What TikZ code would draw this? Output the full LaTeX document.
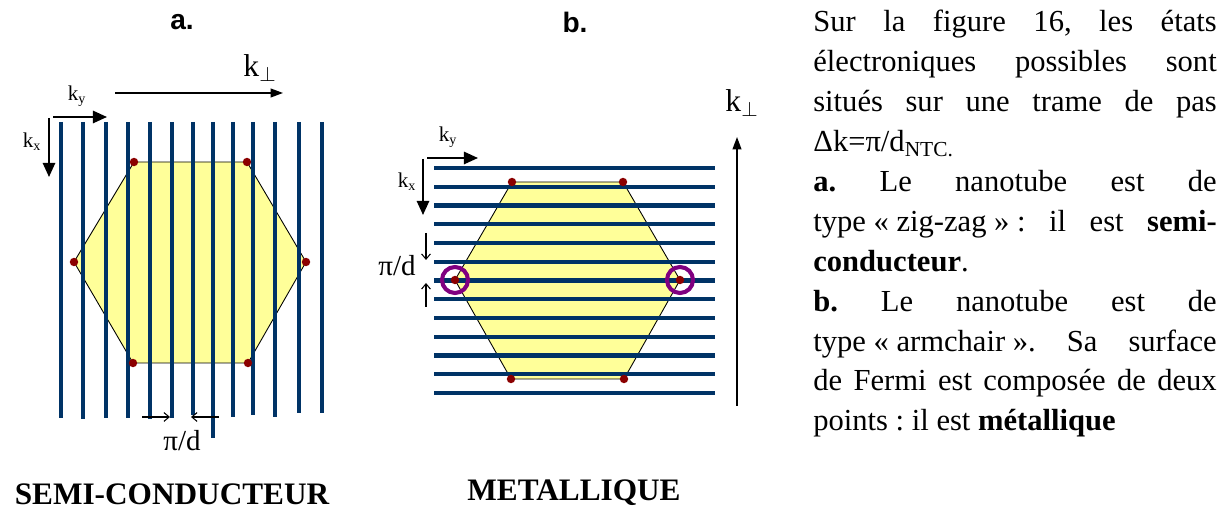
\documentclass[tikz,border=0pt]{standalone}
\usepackage{fontspec}
\setmainfont{Liberation Serif}
\newfontfamily\headfont{Liberation Sans}
\usetikzlibrary{arrows.meta}
\definecolor{bandline}{RGB}{0, 51, 102}
\definecolor{zonefill}{RGB}{255, 255, 153}
\definecolor{kpoint}{RGB}{139, 0, 0}
\definecolor{fermiring}{RGB}{128, 0, 128}
\newcommand{\fixsp}{\kern0.25em}
\tikzstyle{band}      = [draw=bandline, line width=2.3pt]
\tikzstyle{zone}      = [draw=black, fill=zonefill, line width=0.5pt]
\tikzstyle{karrow}    = [-{Triangle[length=8pt, width=7pt]}, line width=1.1pt]
\tikzstyle{perparrow} = [-{Triangle[length=7pt, width=5pt]}, line width=0.8pt]
\tikzstyle{steparrow} = [-{Straight Barb[length=3pt, width=5pt]}, line width=0.6pt]
\tikzstyle{panelhead} = [inner sep=0, font=\headfont\bfseries\fontsize{16}{18}\selectfont]
\tikzstyle{bigk}      = [inner sep=0, font=\fontsize{18}{20}\selectfont]
\tikzstyle{smallk}    = [inner sep=0, font=\fontsize{12}{14}\selectfont]
\tikzstyle{steplabel} = [inner sep=0, font=\fontsize{16.5}{18}\selectfont]
\tikzstyle{verdict}   = [inner sep=0, font=\bfseries\fontsize{17.8}{20}\selectfont]

\begin{document}
\begin{tikzpicture}[x=0.02cm, y=-0.02cm]
  \useasboundingbox (0,0) rectangle (1232,509);

  % a. zig-zag
  \draw[zone] (74,262) -- (134,162) -- (247,162) -- (306,262) -- (248,363) -- (133,363) -- cycle;
  \foreach \x/\yb in {61/418, 83/419, 106/418, 128/418, 150/419, 172/418, 193/415,
                      213/438, 233/417, 253/415, 275/417, 299/413, 322/413}
    \draw[band] (\x,122) -- (\x,\yb);
  \foreach \p in {(134,162), (247,162), (74,262), (306,262), (133,363), (248,363)}
    \fill[kpoint] \p circle (2.4pt);

  \draw[karrow]    (53,117) -- (107,117);
  \draw[karrow]    (49,118) -- (49,177);
  \draw[perparrow] (115,93) -- (283,93);
  \draw[steparrow] (142,417) -- (170,417);
  \draw[steparrow] (219,417) -- (191,417);

  \node (heada)  [panelhead] at (182,22)  {a.};
  \node (kperpa) [bigk]      at (260,68)  {k$_{\perp}$};
  \node (kya)    [smallk]    at (77,96)   {k\textsubscript{y}};
  \node (kxa)    [smallk]    at (32,142)  {k\textsubscript{x}};
  \node (stepa)  [steplabel] at (182,441) {π/d};
  \node (semi)   [verdict]   at (172,494) {SEMI-CONDUCTEUR};

  % b. armchair
  \draw[zone] (455,280) -- (512,182) -- (623,182) -- (680,280) -- (624,379) -- (511,379) -- cycle;
  \foreach \i in {0,...,12}
    \draw[band] (434,{168+18.75*\i}) -- (715,{168+18.75*\i});
  \foreach \p in {(512,182), (623,182), (455,280), (680,280), (511,379), (624,379)}
    \fill[kpoint] \p circle (2.4pt);
  \draw[fermiring, line width=2.3pt] (455,280) circle (7.4pt);
  \draw[fermiring, line width=2.3pt] (680,280) circle (7.4pt);

  \draw[karrow]    (427,158) -- (478,158);
  \draw[karrow]    (423,159) -- (423,215);
  \draw[perparrow] (737,406) -- (737,137);
  \draw[steparrow] (426,233) -- (426,260);
  \draw[steparrow] (426,307) -- (426,283);

  \node (headb)  [panelhead] at (575,22)  {b.};
  \node (kperpb) [bigk]      at (742,103) {k$_{\perp}$};
  \node (kyb)    [smallk]    at (448,137) {k\textsubscript{y}};
  \node (kxb)    [smallk]    at (407,182) {k\textsubscript{x}};
  \node (stepb)  [steplabel] at (397,266) {π/d};
  \node (metal)  [verdict]   at (574,493) {METALLIQUE};

  % explanation
  \node (expl) [anchor=base west, inner sep=0, text width=229.6pt, align=justify,
                font=\fontsize{17.4}{22.7}\selectfont\frenchspacing] at (813,32)
    {Sur la figure 16, les états\linebreak
     électroniques possibles sont\linebreak
     situés sur une trame de pas\linebreak
     Δk=π/d\textsubscript{NTC.}\par
     \textbf{a.} Le nanotube est de\linebreak
     type\fixsp«\fixsp zig-zag\fixsp»\fixsp: il est \textbf{semi-}\linebreak
     \textbf{conducteur}.\par
     \textbf{b.} Le nanotube est de\linebreak
     type\fixsp«\fixsp armchair\fixsp». Sa surface\linebreak
     de Fermi est composée de deux\linebreak
     points : il est \textbf{métallique}};
\end{tikzpicture}
\end{document}
